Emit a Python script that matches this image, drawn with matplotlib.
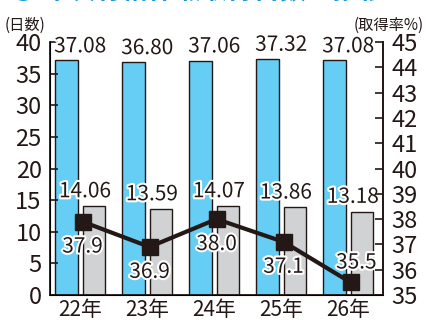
import numpy as np
import matplotlib
matplotlib.use('Agg')
import matplotlib.pyplot as plt
import matplotlib.patheffects as pe

plt.rcParams['font.family'] = ['Noto Sans CJK JP', 'DejaVu Sans']

years = ['22年', '23年', '24年', '25年', '26年']
days_given = [37.08, 36.80, 37.06, 37.32, 37.08]
days_taken = [14.06, 13.59, 14.07, 13.86, 13.18]
rate = [37.9, 36.9, 38.0, 37.1, 35.5]

ink = '#231815'
blue = '#66cdf4'
grey = '#d1d2d4'
outline = [pe.withStroke(linewidth=3, foreground='white')]

fig = plt.figure(figsize=(4.26, 3.2), dpi=100)
ax = fig.add_axes([50/426, 1-295/320, 333/426, 253/320])
x = np.arange(len(years))
w = 0.33

ax.bar(x - 0.205, days_given, w, color=blue, edgecolor=ink, linewidth=1)
ax.bar(x + 0.205, days_taken, w, color=grey, edgecolor=ink, linewidth=1)
for i in range(len(x)):
    ax.text(x[i], days_given[i] + 0.5, '%.2f' % days_given[i], ha='center', va='bottom',
            fontsize=15, color=ink, path_effects=outline)
    ax.text(x[i] + 0.07, days_taken[i] + 0.6, '%.2f' % days_taken[i], ha='center', va='bottom',
            fontsize=15, color=ink, path_effects=outline)

ax.set_xlim(-0.451, 4.519)
ax.set_ylim(0, 40)
ax.set_yticks(range(0, 41, 5))
ax.set_xticks(x)
ax.set_xticklabels(years, fontsize=15, color=ink)
ax.tick_params(axis='x', length=0, pad=3)
ax.tick_params(axis='y', direction='in', length=6, width=1.2, labelsize=17, pad=6, colors=ink)
ax.spines['top'].set_visible(False)
for s in ['left', 'right', 'bottom']:
    ax.spines[s].set_linewidth(1.3)
    ax.spines[s].set_color(ink)

ax2 = ax.twinx()
ax2.set_ylim(35, 45)
ax2.set_yticks(range(35, 46))
ax2.tick_params(axis='y', direction='in', length=6, width=1.2, labelsize=17, pad=6, colors=ink)
ax2.spines['top'].set_visible(False)
ax2.spines['right'].set_linewidth(1.3)
ax2.spines['right'].set_color(ink)
ax2.plot(x + 0.035, rate, color=ink, linewidth=3, marker='s', markersize=12)
for i in range(len(x)):
    if i == len(x) - 1:
        ax2.text(x[i] + 0.12, rate[i] + 0.35, '%.1f' % rate[i], ha='center', va='bottom',
                 fontsize=15, color=ink, path_effects=outline)
    else:
        ax2.text(x[i] + 0.035, rate[i] - 0.55, '%.1f' % rate[i], ha='center', va='top',
                 fontsize=15, color=ink, path_effects=outline)

fig.text(5/426, 1-25/320, '(日数)', fontsize=11, color=ink, va='center', ha='left')
fig.text(424/426, 1-25/320, '(取得率%)', fontsize=11, color=ink, va='center', ha='right')
fig.text(10/426, 1+1/320, '● 年次有給休暇取得日数の推移', fontsize=19, color='#1a96d4',
         va='baseline', ha='left', fontweight='bold')

fig.savefig('out.png', dpi=100)
